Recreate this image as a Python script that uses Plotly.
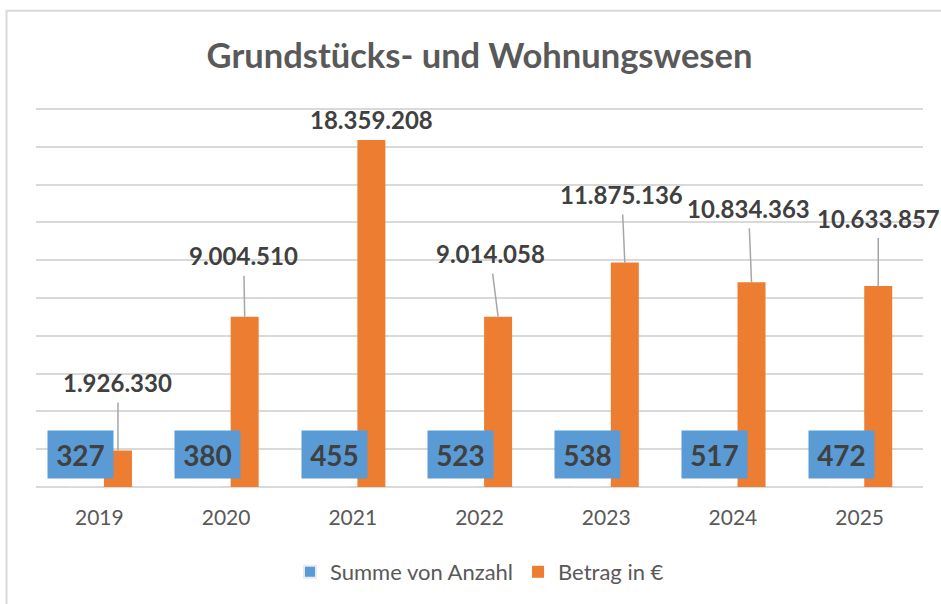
import plotly.graph_objects as go

# ---- data ----
years = ["2019", "2020", "2021", "2022", "2023", "2024", "2025"]
anzahl = [327, 380, 455, 523, 538, 517, 472]
betrag = [1926330, 9004510, 18359208, 9014058, 11875136, 10834363, 10633857]

series_names = ["Summe von Anzahl", "Betrag in €"]
y_max_tick = 20000000
y_step = 2000000

# ---- style ----
BLUE = "#5B9BD5"
ORANGE = "#ED7D31"
GRID = "#D9D9D9"
TXT = "#404040"
AXTXT = "#595959"
FONT = "Lato"

W, H = 941, 604
M_L, M_R, M_T, M_B = 36, 18, 106, 116
TOP_PAD_PX = 3  # room above the top gridline so it is drawn
BARGAP = 0.413
GROUPGAP = 0.247
slot_off = (1 - BARGAP) / 4.0  # offset of each series' bar center from category center

# label offsets (pixels) of the orange value labels relative to bar tops
lab_dx = [0, -1, 0, -8, -3, -3, 0]
lab_dy = [-68, -61, -21, -63, -68, -74, -68]
lab_leader = [True, True, False, True, True, True, True]


def de_fmt(v):
    return f"{v:,}".replace(",", ".")


xs = list(range(len(years)))

fig = go.Figure()
fig.add_trace(go.Bar(x=xs, y=anzahl, name=series_names[0], marker_color=BLUE,
                     hoverinfo="skip"))
fig.add_trace(go.Bar(x=xs, y=betrag, name=series_names[1], marker_color=ORANGE,
                     marker_line_width=0, hoverinfo="skip"))

annotations = []
# blue boxed count labels
for i, v in zip(xs, anzahl):
    annotations.append(dict(
        x=i - slot_off, y=0, xref="x", yref="y",
        text=f"<b>{v}</b>", showarrow=False,
        xanchor="center", yanchor="bottom", yshift=8,
        width=65, height=47, borderpad=0,
        bgcolor=BLUE, font=dict(family=FONT, size=28, color=TXT),
    ))
# orange value labels with leader lines
for i, v, dx, dy, ld in zip(xs, betrag, lab_dx, lab_dy, lab_leader):
    a = dict(
        x=i + slot_off, y=v, xref="x", yref="y",
        text=f"<b>{de_fmt(v)}</b>",
        font=dict(family=FONT, size=24, color=TXT),
        height=37, borderpad=1,
    )
    if ld:
        a.update(showarrow=True, arrowhead=0, arrowwidth=1.5, arrowcolor="#A6A6A6",
                 ax=dx, ay=dy, axref="pixel", ayref="pixel", standoff=0, startstandoff=0)
    else:
        a.update(showarrow=False, xanchor="center", yanchor="middle",
                 xshift=dx, yshift=-dy)
    annotations.append(a)

plot_h = H - M_T - M_B
plot_w = W - M_L - M_R
grid_h = plot_h - TOP_PAD_PX
y_top = y_max_tick * plot_h / grid_h

shapes = [dict(
    type="rect", xref="paper", yref="paper",
    x0=(6.5 - M_L) / plot_w, x1=(W + 10 - M_L) / plot_w,
    y0=(H - M_B - (H + 10)) / plot_h, y1=(H - M_B - 10.5) / plot_h,
    line=dict(color=GRID, width=2), fillcolor="rgba(0,0,0,0)", layer="below",
)]

fig.update_layout(
    width=W, height=H,
    margin=dict(l=M_L, r=M_R, t=M_T, b=M_B),
    paper_bgcolor="white", plot_bgcolor="white",
    barmode="group", bargap=BARGAP, bargroupgap=GROUPGAP,
    title=dict(text="<b>Grundstücks- und Wohnungswesen</b>",
               x=0.5, xanchor="center", xref="paper",
               y=1 - 56 / H, yanchor="middle", yref="container",
               font=dict(family=FONT, size=34.5, color=AXTXT)),
    font=dict(family=FONT, color=AXTXT),
    showlegend=True,
    legend=dict(orientation="h", x=0.5, xanchor="center",
                y=(H - M_B - 572) / plot_h, yanchor="middle",
                font=dict(family=FONT, size=22, color=AXTXT),
                itemsizing="constant"),
    annotations=annotations,
    shapes=shapes,
)
fig.update_xaxes(tickmode="array", tickvals=xs, ticktext=years,
                 range=[-0.5, len(years) - 0.5],
                 showgrid=False, zeroline=False, showline=False,
                 ticks="outside", ticklen=12, tickcolor="rgba(0,0,0,0)",
                 tickfont=dict(family=FONT, size=21, color=AXTXT))
fig.update_yaxes(range=[0, y_top], dtick=y_step, tick0=0,
                 showticklabels=False, showgrid=True, gridcolor=GRID, gridwidth=1.5,
                 zeroline=True, zerolinecolor=GRID, zerolinewidth=1.5, showline=False)

fig.write_html(
    "out.html",
    config={"displayModeBar": False},
    post_script="document.body.style.margin='0';document.body.style.overflow='hidden';",
)
